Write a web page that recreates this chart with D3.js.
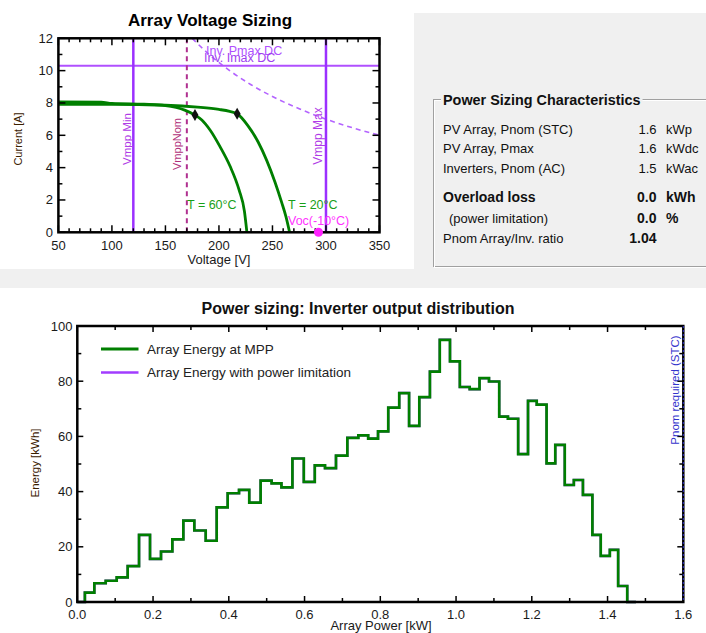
<!DOCTYPE html>
<html><head><meta charset="utf-8">
<script src="https://cdn.jsdelivr.net/npm/d3@7"></script>
<style>
html,body{margin:0;padding:0;background:#fff;}
svg text{font-family:"Liberation Sans",Arial,sans-serif;}
</style></head>
<body>
<svg id="c" width="706" height="633"></svg>
<script>
// ---------- Data: Array Voltage Sizing ----------
const voltTicks = [50,100,150,200,250,300,350];
const currTicks = [0,2,4,6,8,10,12];
const iv60V = [50,90,100,130,150,160,168,177.6,184,192,201,210.3,218.8,223.8,226.1];
const iv60I = [8.07,8.05,7.97,7.92,7.84,7.72,7.56,7.25,6.95,6.3,5.3,4.1,2.62,1.3,0];
const iv20V = [50,100,150,180,200,210,217,227,236.5,244.6,252.4,258.6,262.6,266];
const iv20I = [7.92,7.92,7.86,7.74,7.6,7.48,7.33,6.6,5.6,4.45,3.1,1.85,0.97,0];
const pmaxV = [175,190,210,230,250,275,300,325,350];
const pmaxI = [12,11.05,10,9.13,8.4,7.64,7.0,6.46,6.0];
const mppV = [177.6,217];
const mppI = [7.25,7.33];
const vmppMin = 120, vmppNom = 170, vmppMax = 300, invImax = 10.3, vocMinus10 = 293;

// ---------- Data: Power sizing characteristics ----------
const charLabels = ["PV Array, Pnom (STC)","PV Array, Pmax","Inverters, Pnom (AC)","Overload loss","(power limitation)","Pnom Array/Inv. ratio"];
const charValues = ["1.6","1.6","1.5","0.0","0.0","1.04"];
const charUnits  = ["kWp","kWdc","kWac","kWh","%",""];

// ---------- Data: Inverter output distribution ----------
const powerTicks = [0,0.2,0.4,0.6,0.8,1.0,1.2,1.4,1.6];
const energyTicks = [0,20,40,60,80,100];
const binEdges = [0,0.020,0.045,0.075,0.104,0.133,0.163,0.192,0.221,0.251,0.280,0.309,0.339,0.368,0.397,0.427,0.454,0.484,0.513,0.539,0.568,0.598,0.627,0.654,0.683,0.713,0.742,0.768,0.794,0.821,0.850,0.876,0.903,0.931,0.957,0.984,1.010,1.036,1.062,1.087,1.114,1.137,1.164,1.190,1.213,1.239,1.262,1.287,1.311,1.335,1.360,1.382,1.406,1.428,1.452,1.475];
const energyMPP = [0,3.4,6.8,7.7,8.9,13.0,24.3,15.6,18.3,22.7,29.5,25.9,22.2,34.3,39.4,40.6,36.0,44.0,43.0,41.5,52.0,43.5,49.5,48.5,53.0,59.5,60.4,59.2,61.8,70.4,75.7,63.8,74.2,83.5,95.0,87.2,77.9,77.1,81.1,79.9,67.2,66.4,53.6,72.9,71.5,50.2,56.9,42.4,44.2,38.8,24.3,16.7,18.9,5.8,0];
const energyLimited = [0,3.4,6.8,7.7,8.9,13.0,24.3,15.6,18.3,22.7,29.5,25.9,22.2,34.3,39.4,40.6,36.0,44.0,43.0,41.5,52.0,43.5,49.5,48.5,53.0,59.5,60.4,59.2,61.8,70.4,75.7,63.8,74.2,83.5,95.0,87.2,77.9,77.1,81.1,79.9,67.2,66.4,53.6,72.9,71.5,50.2,56.9,42.4,44.2,38.8,24.3,16.7,18.9,5.8,0];
const legendLabels = ["Array Energy at MPP","Array Energy with power limitation"];

const svg = d3.select("#c");
const GREEN = "#007f00", PURPLE = "#a23cff";

// backgrounds
svg.append("rect").attr("x",414).attr("y",13).attr("width",292).attr("height",256).attr("fill","#f0f0f0");
svg.append("rect").attr("x",0).attr("y",269).attr("width",706).attr("height",19).attr("fill","#f0f0f0");

function ticks(g, x, y, xMajor, xMinor, yMajor, yMinor, Lmaj, Lmin){
  const [x0,x1] = x.range(), [y0,y1] = y.range();
  const add = (x1_,y1_,x2_,y2_) => g.append("line").attr("x1",x1_).attr("y1",y1_).attr("x2",x2_).attr("y2",y2_).attr("stroke","#000").attr("stroke-width",1.5);
  xMinor.forEach(v=>{const p=x(v); const L = xMajor.some(m=>Math.abs(m-v)<1e-9)?Lmaj:Lmin; add(p,y0,p,y0-L); add(p,y1,p,y1+L);});
  yMinor.forEach(v=>{const p=y(v); const L = yMajor.some(m=>Math.abs(m-v)<1e-9)?Lmaj:Lmin; add(x0,p,x0+L,p); add(x1,p,x1-L,p);});
}

// ================= TOP-LEFT: Array Voltage Sizing =================
{
  const x = d3.scaleLinear([50,350],[58.4,379.5]);
  const y = d3.scaleLinear([0,12],[232.3,38.3]);
  const g = svg.append("g");
  g.append("text").attr("x",210).attr("y",25.5).attr("text-anchor","middle").attr("font-size",17).attr("font-weight","bold").text("Array Voltage Sizing");

  const clipId="clipTop";
  g.append("clipPath").attr("id",clipId).append("rect").attr("x",x(50)).attr("y",y(12)).attr("width",x(350)-x(50)).attr("height",y(0)-y(12));
  const pg = g.append("g").attr("clip-path",`url(#${clipId})`);

  const line = d3.line().x(d=>x(d[0])).y(d=>y(d[1])).curve(d3.curveMonotoneX);
  pg.append("path").attr("d",line(pmaxV.map((v,i)=>[v,pmaxI[i]]))).attr("fill","none").attr("stroke","#b464ff").attr("stroke-width",1.6).attr("stroke-dasharray","5,4");
  pg.append("line").attr("x1",x(50)).attr("x2",x(350)).attr("y1",y(invImax)).attr("y2",y(invImax)).attr("stroke","#b050ff").attr("stroke-width",2);
  [vmppMin,vmppMax].forEach(v=>pg.append("line").attr("x1",x(v)).attr("x2",x(v)).attr("y1",y(0)).attr("y2",y(12)).attr("stroke","#9b30ff").attr("stroke-width",2.5));
  pg.append("line").attr("x1",x(vmppNom)).attr("x2",x(vmppNom)).attr("y1",y(0)).attr("y2",y(12)).attr("stroke","#b03090").attr("stroke-width",2).attr("stroke-dasharray","5,4");

  const lineIV = d3.line().x(d=>x(d[0])).y(d=>y(d[1])).curve(d3.curveMonotoneX);
  pg.append("path").attr("d",lineIV(iv60V.map((v,i)=>[v,iv60I[i]]))).attr("fill","none").attr("stroke",GREEN).attr("stroke-width",2.8);
  pg.append("path").attr("d",lineIV(iv20V.map((v,i)=>[v,iv20I[i]]))).attr("fill","none").attr("stroke",GREEN).attr("stroke-width",2.8);
  mppV.forEach((v,i)=>pg.append("path").attr("d",d3.symbol(d3.symbolDiamond,42)()).attr("transform",`translate(${x(v)},${y(mppI[i])})`).attr("fill","#111"));

  const rot = (txt,cx,cy,col,fs)=>g.append("text").attr("transform",`translate(${cx},${cy}) rotate(-90)`).attr("text-anchor","middle").attr("dominant-baseline","central").attr("font-size",fs).attr("fill",col).text(txt);
  rot("Vmpp Min",126.5,139,"#b03ce6",11.5);
  rot("VmppNom",176.5,144,"#b0307a",11);
  rot("Vmpp Max",317.5,136,"#b03ce6",12);
  g.append("text").attr("x",206).attr("y",55).attr("font-size",12.5).attr("fill","#b050ff").text("Inv. Pmax DC");
  g.append("text").attr("x",204).attr("y",62).attr("font-size",12.5).attr("fill","#a040f0").text("Inv. Imax DC");
  g.append("text").attr("x",187).attr("y",208.5).attr("font-size",12.5).attr("fill","#18a018").text("T = 60°C");
  g.append("text").attr("x",288).attr("y",208.5).attr("font-size",12.5).attr("fill","#18a018").text("T = 20°C");
  g.append("text").attr("x",288).attr("y",225).attr("font-size",12.5).attr("fill","#ff33ff").text("Voc(-10°C)");

  const tg = g.append("g");
  ticks(tg,x,y,voltTicks,d3.range(50,351,10),currTicks,d3.range(0,13,1),7,4);
  g.append("rect").attr("x",x(50)).attr("y",y(12)).attr("width",x(350)-x(50)).attr("height",y(0)-y(12)).attr("fill","none").attr("stroke","#000").attr("stroke-width",2.5);
  g.append("circle").attr("cx",x(vocMinus10)).attr("cy",y(0)).attr("r",4.5).attr("fill","#ff22ff");

  voltTicks.forEach(v=>g.append("text").attr("x",x(v)).attr("y",250).attr("text-anchor","middle").attr("font-size",13).attr("fill","#1a1a1a").text(v));
  currTicks.forEach(v=>g.append("text").attr("x",53).attr("y",y(v)+4.5).attr("text-anchor","end").attr("font-size",13).attr("fill","#1a1a1a").text(v));
  g.append("text").attr("transform","translate(18,139) rotate(-90)").attr("text-anchor","middle").attr("dominant-baseline","central").attr("font-size",11).attr("fill","#3a2000").text("Current [A]");
  g.append("text").attr("x",219).attr("y",264).attr("text-anchor","middle").attr("font-size",13).attr("fill","#1a1a1a").text("Voltage [V]");
}

// ================= TOP-RIGHT: Power Sizing Characteristics =================
{
  const g = svg.append("g");
  g.append("rect").attr("x",433.5).attr("y",99.5).attr("width",300).attr("height",167).attr("fill","none").attr("stroke","#a0a0a0").attr("stroke-width",1);
  g.append("rect").attr("x",434.5).attr("y",100.5).attr("width",300).attr("height",167).attr("fill","none").attr("stroke","#ffffff").attr("stroke-width",1);
  const t = g.append("text").attr("x",443).attr("y",104.5).attr("font-size",14.4).attr("font-weight","bold").attr("fill","#111").text("Power Sizing Characteristics");
  const bb = t.node().getBBox();
  g.insert("rect","text").attr("x",bb.x-2).attr("y",bb.y).attr("width",bb.width+4).attr("height",bb.height).attr("fill","#f0f0f0");
  const rowY = [134,153,172.7,202,222.7,242.7];
  const bold = [false,false,false,true,true,true];
  charLabels.forEach((lab,i)=>{
    g.append("text").attr("x",i===4?449:443).attr("y",rowY[i]).attr("font-size",i===3?14:13).attr("font-weight",i===3?"bold":"normal").attr("fill","#111").text(lab);
    g.append("text").attr("x",656.5).attr("y",rowY[i]).attr("text-anchor","end").attr("font-size",bold[i]?14:13).attr("font-weight",bold[i]?"bold":"normal").attr("fill","#111").text(charValues[i]);
    if(charUnits[i]) g.append("text").attr("x",666).attr("y",rowY[i]).attr("font-size",bold[i]?14:13).attr("font-weight",bold[i]?"bold":"normal").attr("fill","#111").text(charUnits[i]);
  });
}

// ================= BOTTOM: Inverter output distribution =================
{
  const x = d3.scaleLinear([0,1.6],[77.3,683.3]);
  const y = d3.scaleLinear([0,100],[602,326]);
  const g = svg.append("g");
  g.append("text").attr("x",358).attr("y",313.5).attr("text-anchor","middle").attr("font-size",16).attr("font-weight","bold").attr("fill","#111").text("Power sizing: Inverter output distribution");

  const pts = (vals)=>{ const p = vals.map((v,i)=>[binEdges[i],v]); p.push([binEdges[binEdges.length-1],vals[vals.length-1]]); return p; };
  const step = d3.line().x(d=>x(d[0])).y(d=>y(d[1])).curve(d3.curveStepAfter);
  g.append("path").attr("d",step(pts(energyLimited))).attr("fill","none").attr("stroke",PURPLE).attr("stroke-width",2.5);
  g.append("path").attr("d",step(pts(energyMPP))).attr("fill","none").attr("stroke",GREEN).attr("stroke-width",2.7);

  const ly = [349,372.5], lc = [GREEN,PURPLE];
  legendLabels.forEach((lab,i)=>{
    g.append("line").attr("x1",101).attr("x2",138.5).attr("y1",ly[i]).attr("y2",ly[i]).attr("stroke",lc[i]).attr("stroke-width",i===0?3:2.5);
    g.append("text").attr("x",147).attr("y",ly[i]+4.8).attr("font-size",13.5).attr("fill","#222").text(lab);
  });

  const tg = g.append("g");
  ticks(tg,x,y,powerTicks,d3.range(0,17).map(i=>i/10),energyTicks,d3.range(0,101,10),6,4);
  g.append("rect").attr("x",x(0)).attr("y",y(100)).attr("width",x(1.6)-x(0)).attr("height",y(0)-y(100)).attr("fill","none").attr("stroke","#000").attr("stroke-width",2.5);
  g.append("line").attr("x1",x(1.6)).attr("x2",x(1.6)).attr("y1",y(100)).attr("y2",y(0)).attr("stroke","#3030d0").attr("stroke-width",1).attr("stroke-dasharray","2,2");
  g.append("text").attr("transform",`translate(${x(1.6)-8},390) rotate(-90)`).attr("text-anchor","middle").attr("dominant-baseline","central").attr("font-size",11.5).attr("fill","#3333cc").text("Pnom required (STC)");

  powerTicks.forEach(v=>g.append("text").attr("x",x(v)).attr("y",619).attr("text-anchor","middle").attr("font-size",13).attr("fill","#1a1a1a").text(v.toFixed(1)));
  energyTicks.forEach(v=>g.append("text").attr("x",72.5).attr("y",y(v)+4.5).attr("text-anchor","end").attr("font-size",13).attr("fill","#1a1a1a").text(v));
  g.append("text").attr("transform","translate(35,463) rotate(-90)").attr("text-anchor","middle").attr("dominant-baseline","central").attr("font-size",11.5).attr("fill","#3a2000").text("Energy [kWh]");
  g.append("text").attr("x",381).attr("y",629.5).attr("text-anchor","middle").attr("font-size",13).attr("fill","#1a1a1a").text("Array Power [kW]");
}
</script>
</body></html>
